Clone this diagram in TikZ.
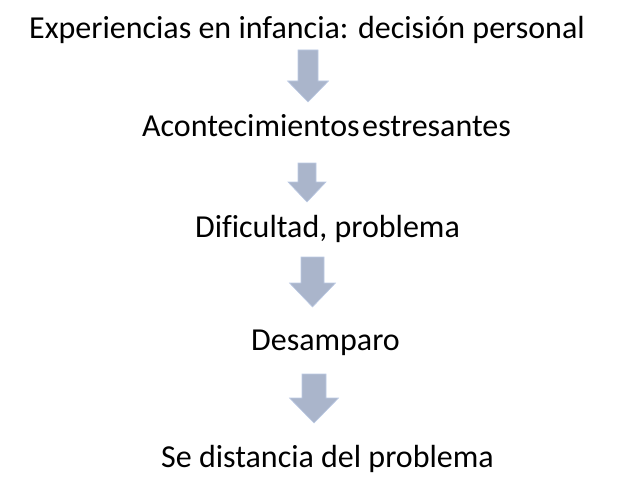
\documentclass[tikz,border=0pt]{standalone}
\usepackage{fontspec}
\setmainfont[Ligatures=NoCommon]{Carlito}
\usepackage{tikz}
\usetikzlibrary{positioning,calc}
\definecolor{flechafill}{RGB}{170,181,203}
\definecolor{flechaborde}{RGB}{187,201,228}
% #1 centre x, #2 top, #3 shaft half width, #4 head start, #5 head half width, #6 tip
\newcommand{\flecha}[6]{%
  \filldraw[flechafill, draw=flechaborde, line width=0.6pt]
    (#1pt-#3pt,-#2pt) -- (#1pt+#3pt,-#2pt) -- (#1pt+#3pt,-#4pt) -- (#1pt+#5pt,-#4pt)
    -- (#1pt,-#6pt) -- (#1pt-#5pt,-#4pt) -- (#1pt-#3pt,-#4pt) -- cycle;}

\begin{document}
\begin{tikzpicture}[x=1pt,y=1pt]
  \tikzstyle{every node}=[font=\fontsize{32}{38}\selectfont, inner sep=0pt, anchor=base]
  \useasboundingbox (0,0) rectangle (617,-497);

  \node (exp) at (307,-39)   {Experiencias en infancia: decisi\'on personal};
  \node (acon) at (326.5,-137) {Acontecimientos\hspace{0.08em}estresantes};
  \node (dif) at (327.5,-237) {Dificultad, problema};
  \node (des) at (325.5,-350) {Desamparo};
  \node (dist) at (327.5,-467) {Se distancia del problema};

  \flecha{308}{50}{10}{81}{20.5}{102}
  \flecha{307}{163}{9}{182}{19}{202}
  \flecha{312.5}{257}{11.5}{283}{23}{307}
  \flecha{314}{374}{12}{398}{24.5}{423}

\end{tikzpicture}
\end{document}
